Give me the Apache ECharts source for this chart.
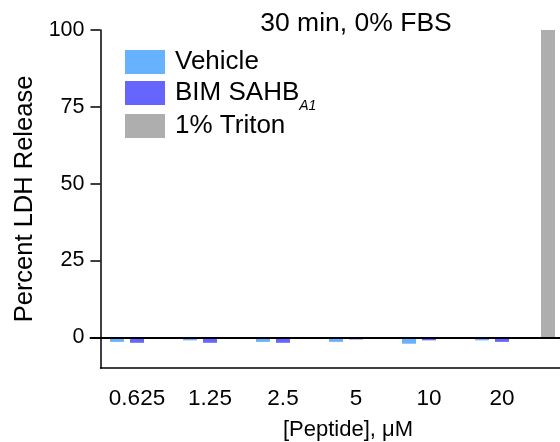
<!DOCTYPE html>
<html>
<head>
<meta charset="utf-8">
<script src="https://cdn.jsdelivr.net/npm/echarts@6/dist/echarts.min.js"></script>
<style>
  html, body { margin: 0; padding: 0; background: #fff; }
  #main { width: 560px; height: 442px; }
</style>
</head>
<body>
<div id="main"></div>
<script>
// peptide concentrations (uM); last slot on the axis is the triton control
var concentrations = ['0.625', '1.25', '2.5', '5', '10', '20'];
var vehicle = [-1.5, -1.0, -1.5, -1.5, -2.1, -1.0];
var bimSahb = [-1.8, -1.8, -1.8, -0.7, -1.0, -1.5];
var triton = [100];
var yTicks = [0, 25, 50, 75, 100];

var font = "'Liberation Sans', Arial, sans-serif";
var axisCats = concentrations.concat(['']);

var myChart = echarts.init(document.getElementById('main'));

var legendText = {
    fontFamily: font,
    fontSize: 26,
    color: '#000',
    padding: [0, 0, 0, 5],
    rich: {
        sub: { fontFamily: font, fontSize: 14, fontStyle: 'italic', verticalAlign: 'top', padding: [19, 0, -19, 0] }
    }
};

var option = {
    animation: false,
    textStyle: { fontFamily: font, color: '#000' },
    title: {
        text: '30 min, 0% FBS',
        left: 356,
        top: 10,
        padding: 0,
        textAlign: 'center',
        textStyle: { fontFamily: font, fontSize: 26.5, fontWeight: 'normal', color: '#000' }
    },
    // two legend blocks so the subscript line doesn't push the last entry down
    legend: [
        {
            orient: 'vertical',
            left: 125,
            top: 49,
            padding: 0,
            itemWidth: 40,
            itemHeight: 24,
            itemGap: 5,
            icon: 'rect',
            data: ['Vehicle', 'BIM SAHB'],
            formatter: function (name) {
                return name === 'BIM SAHB' ? 'BIM SAHB{sub|A1}' : name;
            },
            textStyle: legendText
        },
        {
            orient: 'vertical',
            left: 125,
            top: 113,
            padding: 0,
            itemWidth: 40,
            itemHeight: 24,
            icon: 'rect',
            data: ['1% Triton'],
            textStyle: legendText
        }
    ],
    grid: [
        // frame with the labelled axes
        { left: 100.5, width: 511, top: 30, bottom: 74, outerBoundsMode: 'none' },
        // vehicle / bim bars, shifted so BIM sits on the tick
        { left: 90.5, width: 511, top: 30, bottom: 74, outerBoundsMode: 'none' },
        // triton control bar
        { left: 541, width: 14, top: 30, bottom: 74, outerBoundsMode: 'none' }
    ],
    xAxis: [
        {
            gridIndex: 0,
            type: 'category',
            data: axisCats,
            position: 'bottom',
            name: '[Peptide], \u03bcM',
            nameLocation: 'middle',
            nameGap: 51,
            nameMoveOverlap: false,
            nameTextStyle: { fontFamily: font, fontSize: 22, color: '#000', padding: [0, 16, 0, 0] },
            axisLine: { onZero: false, lineStyle: { color: '#000', width: 1.5 } },
            axisTick: { alignWithLabel: true, length: 10, lineStyle: { color: '#000', width: 1.5 } },
            axisLabel: { fontFamily: font, fontSize: 22.5, color: '#000', margin: 19, interval: 0 },
            splitLine: { show: false }
        },
        {
            gridIndex: 1,
            type: 'category',
            data: axisCats,
            z: 10,
            axisLine: { onZero: true, lineStyle: { color: '#000', width: 2 } },
            axisTick: { show: false },
            axisLabel: { show: false },
            splitLine: { show: false }
        },
        {
            gridIndex: 2,
            type: 'category',
            data: ['1% Triton'],
            show: false
        }
    ],
    yAxis: [
        {
            gridIndex: 0,
            type: 'value',
            min: -10,
            max: 100,
            name: 'Percent LDH Release',
            nameLocation: 'middle',
            nameGap: 63,
            nameMoveOverlap: false,
            nameTextStyle: { fontFamily: font, fontSize: 25.5, color: '#000' },
            axisLine: { show: true, lineStyle: { color: '#000', width: 1.5 } },
            axisTick: { show: true, length: 10, customValues: yTicks, lineStyle: { color: '#000', width: 1.5 } },
            axisLabel: { fontFamily: font, fontSize: 21.5, color: '#000', margin: 16, customValues: yTicks },
            splitLine: { show: false }
        },
        { gridIndex: 1, type: 'value', min: -10, max: 100, show: false, splitLine: { show: false } },
        { gridIndex: 2, type: 'value', min: -10, max: 100, show: false, splitLine: { show: false } }
    ],
    series: [
        {
            name: 'Vehicle',
            type: 'bar',
            xAxisIndex: 1,
            yAxisIndex: 1,
            barWidth: 14,
            barGap: '43%',
            itemStyle: { color: '#66B2FF' },
            data: vehicle
        },
        {
            name: 'BIM SAHB',
            type: 'bar',
            xAxisIndex: 1,
            yAxisIndex: 1,
            barWidth: 14,
            barGap: '43%',
            itemStyle: { color: '#6666FF' },
            data: bimSahb
        },
        {
            name: '1% Triton',
            type: 'bar',
            xAxisIndex: 2,
            yAxisIndex: 2,
            barWidth: 14,
            itemStyle: { color: '#AEAEAE' },
            data: triton
        }
    ]
};

myChart.setOption(option);
</script>
</body>
</html>
